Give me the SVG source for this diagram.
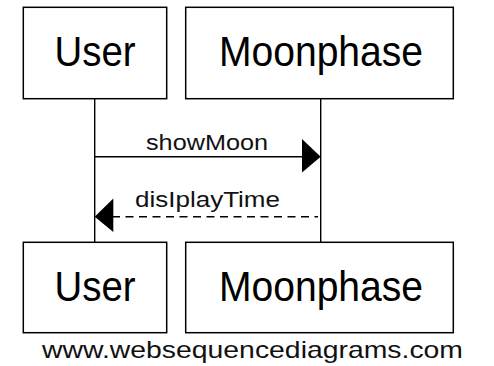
<svg xmlns="http://www.w3.org/2000/svg" width="494" height="366" viewBox="0 0 494 366">
<style>
.box{fill:#fff;stroke:#000;stroke-width:1.5}
.life{stroke:#000;stroke-width:1.4;fill:none}
.title{font-family:"Liberation Sans",Arial,sans-serif;font-size:43px;fill:#000;text-anchor:middle}
.lbl{font-family:"Liberation Sans",Arial,sans-serif;font-size:22px;fill:#111}
.msg{stroke:#000;stroke-width:1.4;fill:none}
.head{fill:#000;stroke:none}
</style>
<rect width="494" height="366" fill="#fff"/>
<g id="lifelines" class="life">
<line x1="94.7" y1="98.7" x2="94.7" y2="242.3"/>
<line x1="320.7" y1="98.7" x2="320.7" y2="242.3"/>
</g>
<g id="user-top">
<rect class="box" x="23.3" y="7.3" width="143.4" height="91.4"/>
<text class="title" x="95" y="65.7" textLength="81" lengthAdjust="spacingAndGlyphs">User</text>
</g>
<g id="moonphase-top">
<rect class="box" x="185.7" y="7.3" width="267.6" height="91.4"/>
<text class="title" x="321" y="65.7" textLength="204" lengthAdjust="spacingAndGlyphs">Moonphase</text>
</g>
<g id="user-bottom">
<rect class="box" x="23.3" y="242.3" width="143.4" height="90.4"/>
<text class="title" x="95" y="300.5" textLength="81" lengthAdjust="spacingAndGlyphs">User</text>
</g>
<g id="moonphase-bottom">
<rect class="box" x="185.7" y="242.3" width="267.6" height="90.4"/>
<text class="title" x="321" y="300.5" textLength="204" lengthAdjust="spacingAndGlyphs">Moonphase</text>
</g>
<g id="connectors">
<line class="msg" x1="94.7" y1="156.7" x2="304" y2="156.7"/>
<polygon class="head" points="302,139 320.7,156.7 302,172.5"/>
<text class="lbl" x="146" y="150" textLength="122" lengthAdjust="spacingAndGlyphs">showMoon</text>
<line class="msg" x1="112" y1="216.7" x2="318" y2="216.7" stroke-dasharray="8,5.5"/>
<polygon class="head" points="113.3,198.5 94.7,216.7 113.3,232"/>
<text class="lbl" x="135" y="207" textLength="145" lengthAdjust="spacingAndGlyphs">disIplayTime</text>
</g>
<text id="footer" x="42" y="358.3" font-family="Liberation Sans, Arial, sans-serif" font-size="24" fill="#111" textLength="421" lengthAdjust="spacingAndGlyphs">www.websequencediagrams.com</text>
</svg>
